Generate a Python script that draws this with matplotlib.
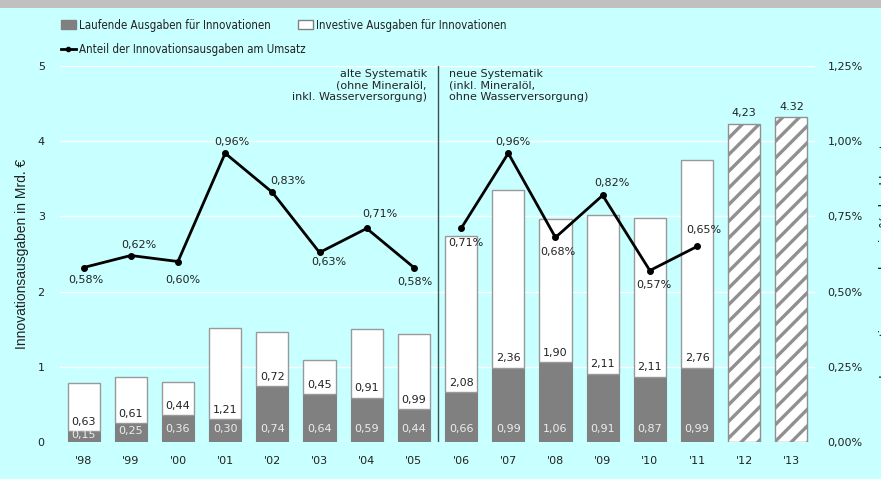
import numpy as np
import matplotlib
matplotlib.use("Agg")
import matplotlib.pyplot as plt
from matplotlib.patches import Patch
from matplotlib.lines import Line2D
from matplotlib.ticker import FuncFormatter
from matplotlib import font_manager as fm

# ---- data ----
years = ["'98", "'99", "'00", "'01", "'02", "'03", "'04", "'05",
         "'06", "'07", "'08", "'09", "'10", "'11", "'12", "'13"]
laufende = [0.15, 0.25, 0.36, 0.30, 0.74, 0.64, 0.59, 0.44,
            0.66, 0.99, 1.06, 0.91, 0.87, 0.99]
investive = [0.63, 0.61, 0.44, 1.21, 0.72, 0.45, 0.91, 0.99,
             2.08, 2.36, 1.90, 2.11, 2.11, 2.76]
plan_totals = [4.23, 4.32]
plan_labels = ["4,23", "4.32"]
anteil = [0.58, 0.62, 0.60, 0.96, 0.83, 0.63, 0.71, 0.58,
          0.71, 0.96, 0.68, 0.82, 0.57, 0.65]
break_index = 8  # new methodology starts at '06

# label offsets (pixels) for the share labels
lab_off = [(2, -12), (8, 11), (5, -18), (7, 11), (16, 11), (9, -10), (13, 14), (1, -14),
           (5, -15), (5, 11), (2, -15), (9, 12), (4, -14), (7, 16)]

# pick a condensed font for the legend if one is available
legprop = None
for f in fm.fontManager.ttflist:
    nm = f.name.lower()
    fn = f.fname.lower()
    if ("narrow" in nm or "condensed" in nm or "condensed" in fn) and "bold" not in fn \
            and "italic" not in fn and "oblique" not in fn and f.weight in (400, "normal", "regular"):
        legprop = fm.FontProperties(fname=f.fname, size=8.3)
        break
if legprop is None:
    legprop = fm.FontProperties(family="Liberation Sans", size=7.8)

BG = "#c8ffff"
fig = plt.figure(figsize=(8.81, 4.79), dpi=100, facecolor=BG)
ax = fig.add_axes([60/881, 1-442/479, (815-60)/881, (442-66)/479])
ax.set_facecolor(BG)

# top grey band
fig.patches.append(plt.Rectangle((0, 1-8/479), 1, 8/479, transform=fig.transFigure,
                                 facecolor="#c0c0c0", edgecolor="none", zorder=0))

x = np.arange(len(years))
n = len(laufende)
w = 0.68
ax.bar(x[:n], laufende, width=w, color="#808080", edgecolor="#808080", linewidth=0.8, zorder=2)
ax.bar(x[:n], investive, width=w, bottom=laufende, color="white", edgecolor="#999999",
       linewidth=1.0, zorder=2)
plt.rcParams['hatch.color'] = "#8c8c8c"
plt.rcParams['hatch.linewidth'] = 2.4
ax.bar(x[n:], plan_totals, width=w, color="white", edgecolor="#909090", hatch="//",
       linewidth=1.0, zorder=2)

numfont = dict(family="DejaVu Sans", fontsize=8)
for i in range(n):
    ax.text(x[i], min(0.17, laufende[i]*0.6), f"{laufende[i]:.2f}".replace(".", ","),
            ha="center", va="center", color="#ececec", zorder=4, **numfont)
    ax.annotate(f"{investive[i]:.2f}".replace(".", ","), (x[i], laufende[i]),
                xytext=(0, 3), textcoords="offset points", ha="center", va="bottom",
                color="#222222", zorder=4, **numfont)
for j, t in enumerate(plan_labels):
    ax.annotate(t, (x[n+j], plan_totals[j]), xytext=(0, 4), textcoords="offset points",
                ha="center", va="bottom", color="#222222", **numfont)

ax.set_xlim(-0.5, len(years)-0.5)
ax.set_ylim(0, 5)
ax.set_yticks(range(6))
ax.set_xticks(x)
ax.set_xticklabels(years)
ax.tick_params(axis="both", length=0, labelsize=8, colors="#222222")
ax.tick_params(axis="y", pad=11)
ax.tick_params(axis="x", pad=10)
for lab in ax.get_xticklabels() + ax.get_yticklabels():
    lab.set_family("DejaVu Sans")
ax.yaxis.grid(True, color="white", linewidth=1.0, zorder=1)
ax.set_axisbelow(True)
for s in ax.spines.values():
    s.set_visible(False)
ax.set_ylabel("Innovationsausgaben in Mrd. €", family="Liberation Sans", fontsize=10,
              color="#222222", labelpad=6)

ax.axvline(break_index - 0.5, color="#3c5050", linewidth=1.0, zorder=3)

ax2 = ax.twinx()
ax2.set_ylim(0, 1.25)
ax2.set_yticks([0, 0.25, 0.5, 0.75, 1.0, 1.25])
ax2.yaxis.set_major_formatter(FuncFormatter(lambda v, p: f"{v:.2f}%".replace(".", ",")))
ax2.tick_params(axis="y", length=0, labelsize=8, colors="#222222", pad=9)
for s in ax2.spines.values():
    s.set_visible(False)
xi = x[:n]
ax2.plot(xi[:break_index], anteil[:break_index], color="black", lw=2, marker="o", ms=4, zorder=5)
ax2.plot(xi[break_index:], anteil[break_index:], color="black", lw=2, marker="o", ms=4, zorder=5)
for i in range(n):
    ax2.annotate(f"{anteil[i]:.2f}%".replace(".", ","), (xi[i], anteil[i]),
                 xytext=lab_off[i], textcoords="offset pixels", ha="center", va="center",
                 color="#222222", **numfont)

fig.text(886/881, 1-250/479, "Innovationsausgaben in % des Umsatzes", rotation=90,
         ha="center", va="center", family="Liberation Sans", fontsize=10, color="#222222")

# methodology notes
ax.text(427/881, 1-69/479, "alte Systematik\n(ohne Mineralöl,\ninkl. Wasserversorgung)",
        transform=fig.transFigure, ha="right", va="top", linespacing=1.2,
        color="#222222", **numfont)
ax.text(449/881, 1-69/479, "neue Systematik\n(inkl. Mineralöl,\nohne Wasserversorgung)",
        transform=fig.transFigure, ha="left", va="top", linespacing=1.2,
        color="#222222", **numfont)

# legend entries
entries = [
    (Patch(facecolor="#808080", edgecolor="#808080"), "Laufende Ausgaben für Innovationen", 61, 25),
    (Patch(facecolor="white", edgecolor="#808080"), "Investive Ausgaben für Innovationen", 298, 25),
    (Line2D([], [], color="black", lw=2, marker="o", ms=3), "Anteil der Innovationsausgaben am Umsatz", 61, 50),
]
for h, t, px, py in entries:
    lg = fig.legend([h], [t], loc="center left", bbox_to_anchor=(px/881, 1-py/479),
                    frameon=False, prop=legprop, handlelength=1.3, handleheight=0.8,
                    handletextpad=0.3, borderpad=0, borderaxespad=0)
    for tx in lg.get_texts():
        tx.set_color("#222222")

fig.savefig("out.png", dpi=100, facecolor=BG)
